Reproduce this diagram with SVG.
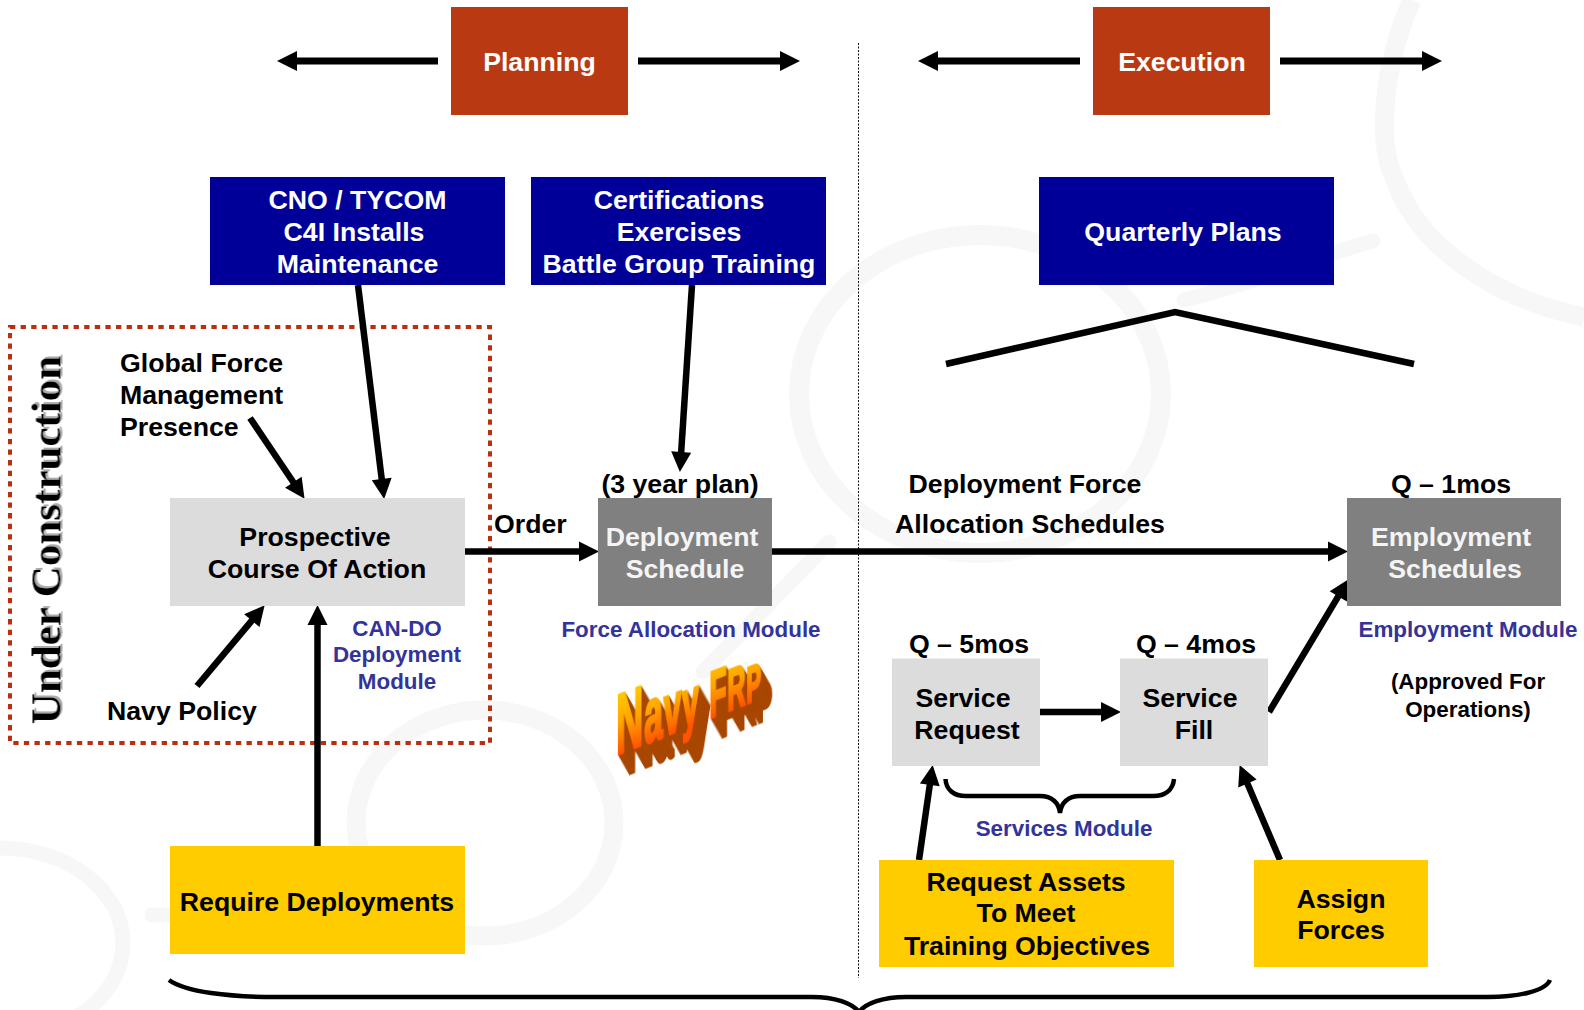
<svg xmlns="http://www.w3.org/2000/svg" width="1584" height="1010" viewBox="0 0 1584 1010">
<style>
text{font-family:"Liberation Sans",Arial,sans-serif;font-weight:bold;font-size:26.700px;text-anchor:middle;fill:#000}
.w{fill:#fff}.g{fill:#f4f4f4}
.m{fill:#333399;font-size:22.400px}
.s{font-size:22.400px}
.l{text-anchor:start}
.o{fill:#b93a12}.b{fill:#000099}.n{fill:#dcdcdc}.d{fill:#808080}.y{fill:#ffcc00}
.a{stroke:#000;stroke-width:6.500;fill:none;marker-end:url(#h)}
.h{stroke:#000;stroke-width:7;fill:none;marker-end:url(#h)}
.bg{fill:none;stroke:#f7f7f7}
</style>
<defs>
<marker id="h" markerUnits="userSpaceOnUse" markerWidth="22" markerHeight="22" refX="10" refY="11" orient="auto"><path d="M1 1L21 11L1 21Z" fill="#000"/></marker>
<linearGradient id="wa" gradientUnits="userSpaceOnUse" x1="0" y1="-62" x2="0" y2="0"><stop offset="0" stop-color="#ffcc00"/><stop offset="0.5" stop-color="#ffa500"/><stop offset="1" stop-color="#ff5500"/></linearGradient>
<filter id="sh" x="-10%" y="-10%" width="130%" height="130%"><feDropShadow dx="2" dy="2" stdDeviation="0.5" flood-color="#aaa"/></filter>
<filter id="ex" x="-20%" y="-20%" width="170%" height="170%">
<feFlood flood-color="#a84600"/><feComposite in2="SourceAlpha" operator="in" result="c"/>
<feOffset in="c" dx="2" dy="1.700" result="a"/><feOffset in="a" dx="2" dy="1.700" result="b"/><feOffset in="b" dx="2" dy="1.700" result="d"/><feOffset in="d" dx="2" dy="1.700" result="e"/><feOffset in="e" dx="2" dy="1.700" result="f"/><feOffset in="f" dx="2" dy="1.700" result="g"/><feOffset in="g" dx="2" dy="1.700" result="i"/><feOffset in="i" dx="2" dy="1.700" result="j"/><feOffset in="j" dx="2" dy="1.700" result="k"/><feOffset in="k" dx="2" dy="1.700" result="l"/><feOffset in="l" dx="2" dy="1.700" result="m"/><feOffset in="m" dx="2" dy="1.700" result="p"/>
<feMerge><feMergeNode in="p"/><feMergeNode in="m"/><feMergeNode in="l"/><feMergeNode in="k"/><feMergeNode in="j"/><feMergeNode in="i"/><feMergeNode in="g"/><feMergeNode in="f"/><feMergeNode in="e"/><feMergeNode in="d"/><feMergeNode in="b"/><feMergeNode in="a"/><feMergeNode in="SourceGraphic"/></feMerge>
</filter>
</defs>
<rect width="1584" height="1010" fill="#fff"/>
<g id="background">
<ellipse class="bg" cx="980" cy="394" rx="181" ry="159" stroke-width="20"/>
<ellipse class="bg" cx="485" cy="823" rx="129" ry="113" stroke-width="19"/>
<ellipse class="bg" cx="0" cy="943" rx="123" ry="95" stroke-width="15"/>
<path class="bg" stroke-width="19" d="M1412 0C1385 60 1375 140 1395 180C1420 250 1500 300 1584 317"/>
<path class="bg" stroke-width="15" stroke-linecap="round" d="M1184 300C1250 285 1320 255 1373 241"/>
<path class="bg" stroke-width="15" stroke-linecap="round" d="M829 542L703 672"/>
<path class="bg" stroke-width="15" stroke-linecap="round" d="M152 915H200"/>
</g>
<g id="connectors">
<line class="h" x1="438" y1="61" x2="288" y2="61"/>
<line class="h" x1="638" y1="61" x2="789" y2="61"/>
<line class="h" x1="1080" y1="61" x2="929" y2="61"/>
<line class="h" x1="1280" y1="61" x2="1431" y2="61"/>
<line x1="858.500" y1="43" x2="858.500" y2="978" stroke="#111" stroke-width="1" stroke-dasharray="2 1.500"/>
<path d="M946 364L1175 312L1414 364" fill="none" stroke="#000" stroke-width="6.500"/>
<rect x="10" y="327" width="480" height="416" fill="none" stroke="#b8300f" stroke-width="4" stroke-dasharray="5.300 5.300"/>
<line class="a" x1="358" y1="285" x2="382.800" y2="488"/>
<line class="a" x1="692" y1="285" x2="680.600" y2="461"/>
<line class="a" x1="250" y1="418" x2="298.400" y2="489.700"/>
<line class="a" x1="197" y1="686" x2="257.600" y2="613.700"/>
<line class="a" x1="317.500" y1="847" x2="317.500" y2="616"/>
<line class="a" x1="465" y1="551.500" x2="588" y2="551.500"/>
<line class="a" x1="772" y1="551.500" x2="1337" y2="551.500"/>
<line class="a" x1="1040" y1="712" x2="1110" y2="712"/>
<line class="a" x1="1269" y1="712" x2="1342.900" y2="588.600"/>
<line class="a" x1="919" y1="860" x2="931.100" y2="775.900"/>
<line class="a" x1="1280" y1="860" x2="1243.900" y2="775.200"/>
<path d="M945.500 779C946 790 954 796 966 796H1040C1052 796 1059 803 1060 813C1061 803 1068 796 1080 796H1153C1165 796 1173 790 1174 779" fill="none" stroke="#000" stroke-width="4.500"/>
<path d="M169 980C185 992 230 997 275 997H812C835 997 852 1003 859 1012C866 1003 883 997 906 997H1488C1515 997 1545 992 1550 980" fill="none" stroke="#000" stroke-width="4.500"/>
</g>
<g id="planning"><rect class="o" x="451" y="7" width="177" height="108"/><text class="w" x="539.500" y="71">Planning</text></g>
<g id="execution"><rect class="o" x="1093" y="7" width="177" height="108"/><text class="w" x="1182" y="71">Execution</text></g>
<g id="cno"><rect class="b" x="210" y="177" width="295" height="108"/><text class="w" x="357.500" y="209">CNO / TYCOM</text><text class="w" x="354" y="241">C4I Installs</text><text class="w" x="357.500" y="273">Maintenance</text></g>
<g id="certifications"><rect class="b" x="531" y="177" width="295" height="108"/><text class="w" x="679" y="209">Certifications</text><text class="w" x="679" y="241">Exercises</text><text class="w" x="679" y="273">Battle Group Training</text></g>
<g id="quarterly"><rect class="b" x="1039" y="177" width="295" height="108"/><text class="w" x="1183" y="241">Quarterly Plans</text></g>
<g id="under-construction"><text transform="translate(60.500 540) rotate(-90)" filter="url(#sh)" style="font-family:'Liberation Serif',serif;font-size:43px">Under Construction</text></g>
<g id="global-force"><text class="l" x="120" y="372">Global Force</text><text class="l" x="120" y="404">Management</text><text class="l" x="120" y="436">Presence</text></g>
<g id="navy-policy"><text class="l" x="107" y="720">Navy Policy</text></g>
<g id="prospective"><rect class="n" x="170" y="498" width="295" height="108"/><text x="315" y="545.500">Prospective</text><text x="317" y="578">Course Of Action</text></g>
<g id="can-do"><text class="m" x="397" y="636">CAN-DO</text><text class="m" x="397" y="662">Deployment</text><text class="m" x="397" y="689">Module</text></g>
<g id="order"><text class="l" x="494" y="533">Order</text></g>
<g id="deployment"><text x="680" y="493">(3 year plan)</text><rect class="d" x="598" y="498" width="174" height="108"/><text class="g" x="682" y="546">Deployment</text><text class="g" x="685" y="578">Schedule</text><text class="m" x="691" y="636.500">Force Allocation Module</text></g>
<g id="allocation"><text x="1025" y="493">Deployment Force</text><text x="1030" y="533">Allocation Schedules</text></g>
<g id="employment"><text x="1451" y="493">Q – 1mos</text><rect class="d" x="1347" y="498" width="214" height="108"/><text class="g" x="1451" y="546">Employment</text><text class="g" x="1455" y="578">Schedules</text><text class="m" x="1468" y="636.500">Employment Module</text><text class="s" x="1468" y="688.500">(Approved For</text><text class="s" x="1468" y="716.500">Operations)</text></g>
<g id="service-request"><text x="969" y="653">Q – 5mos</text><rect class="n" x="892" y="658.500" width="148" height="107.500"/><text x="963" y="707">Service</text><text x="967" y="739">Request</text></g>
<g id="service-fill"><text x="1196" y="653">Q – 4mos</text><rect class="n" x="1120" y="658.500" width="148" height="107.500"/><text x="1190" y="707">Service</text><text x="1194" y="739">Fill</text></g>
<g id="services-module"><text class="m" x="1064" y="836">Services Module</text></g>
<g id="require"><rect class="y" x="170" y="846" width="295" height="108"/><text x="317" y="910.500">Require Deployments</text></g>
<g id="request-assets"><rect class="y" x="879" y="860" width="295" height="107"/><text x="1026" y="891">Request Assets</text><text x="1026" y="922">To Meet</text><text x="1027" y="955">Training Objectives</text></g>
<g id="assign"><rect class="y" x="1254" y="860" width="174" height="107"/><text x="1341" y="907.500">Assign</text><text x="1341" y="939">Forces</text></g>
<g id="navy-frp"><text transform="translate(616 755) skewY(-21.500) scale(0.44 1)" filter="url(#ex)" style="text-anchor:start;fill:url(#wa);stroke:url(#wa);stroke-width:3px;font-size:86px">N<tspan style="font-size:76px" dx="2">a</tspan><tspan style="font-size:72px" dx="2">v</tspan><tspan style="font-size:68px" dx="2">y</tspan><tspan style="font-size:64px" dx="24">F</tspan><tspan style="font-size:57px" dx="2">R</tspan><tspan style="font-size:50px" dx="2">P</tspan></text></g>
</svg>
